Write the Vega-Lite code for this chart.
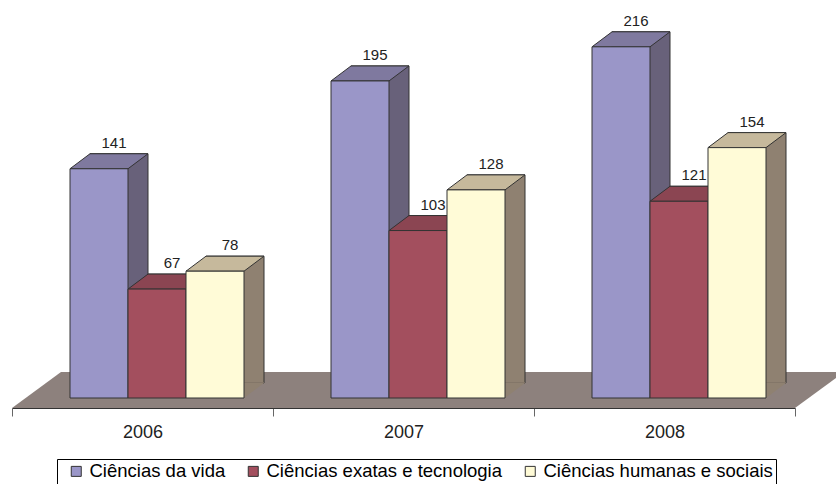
{
  "$schema": "https://vega.github.io/schema/vega-lite/v6.json",
  "width": 783,
  "height": 408,
  "autosize": {"type": "none"},
  "padding": {"left": 12, "top": 0, "right": 41, "bottom": 76},
  "background": "white",
  "config": {"view": {"stroke": null}, "font": "Liberation Sans"},
  "data": {
    "values": [
      {"ano": "2006", "area": "Ciências da vida", "n": 141},
      {"ano": "2006", "area": "Ciências exatas e tecnologia", "n": 67},
      {"ano": "2006", "area": "Ciências humanas e sociais", "n": 78},
      {"ano": "2007", "area": "Ciências da vida", "n": 195},
      {"ano": "2007", "area": "Ciências exatas e tecnologia", "n": 103},
      {"ano": "2007", "area": "Ciências humanas e sociais", "n": 128},
      {"ano": "2008", "area": "Ciências da vida", "n": 216},
      {"ano": "2008", "area": "Ciências exatas e tecnologia", "n": 121},
      {"ano": "2008", "area": "Ciências humanas e sociais", "n": 154}
    ]
  },
  "encoding": {
    "x": {
      "field": "ano",
      "type": "ordinal",
      "title": null,
      "scale": {"type": "band", "domain": ["2006", "2007", "2008"], "paddingInner": 0, "paddingOuter": 0},
      "axis": {
        "zindex": 1,
        "tickBand": "extent",
        "labelAngle": 0,
        "domainColor": "#333333",
        "domainWidth": 1,
        "tickColor": "#666666",
        "tickWidth": 1,
        "tickSize": 8,
        "labelFontSize": 18,
        "labelColor": "#222222",
        "labelPadding": 7,
        "labelFont": "Liberation Sans",
        "grid": false
      }
    }
  },
  "layer": [
    {
      "data": {"values": [{"ano": "2007"}]},
      "mark": {"type": "point", "shape": "M-391.5,0L391.5,0L440.5,-36L-342.5,-36Z", "size": 4, "filled": true, "fill": "#8D817D", "opacity": 1, "strokeWidth": 0},
      "encoding": {
        "y": {"datum": -6.15, "type": "quantitative", "scale": {"domain": [-6.15, 244.8], "nice": false, "zero": false}, "axis": null}
      }
    },
    {
      "mark": {"type": "bar", "yOffset": -15, "y2Offset": -15, "stroke": "#333333", "strokeWidth": 1},
      "encoding": {
        "xOffset": {"field": "area", "type": "nominal", "scale": {"type": "band", "domain": ["Ciências da vida", "Ciências exatas e tecnologia", "Ciências humanas e sociais"], "range": [78, 252], "paddingInner": 0, "paddingOuter": 0}},
        "y": {"field": "n", "type": "quantitative", "scale": {"domain": [-6.15, 244.8], "nice": false, "zero": false}, "axis": null},
        "y2": {"datum": 0},
        "fill": {"condition": [{"test": "datum.area === 'Ciências da vida'", "value": "#68617A"}, {"test": "datum.area === 'Ciências exatas e tecnologia'", "value": "#72384A"}], "value": "#8F8171"}
      }
    },
    {
      "mark": {"type": "point", "shape": "M29,0L29,-15.7L49,-15.7L49,-15Z", "size": 4, "filled": true, "opacity": 1, "strokeWidth": 0},
      "encoding": {
        "xOffset": {"field": "area", "type": "nominal", "scale": {"type": "point", "domain": ["Ciências da vida", "Ciências exatas e tecnologia", "Ciências humanas e sociais"], "range": [87, 203], "padding": 0}},
        "y": {"datum": 0, "type": "quantitative", "scale": {"domain": [-6.15, 244.8], "nice": false, "zero": false}, "axis": null},
        "fill": {"condition": [{"test": "datum.area === 'Ciências da vida'", "value": "#68617A"}, {"test": "datum.area === 'Ciências exatas e tecnologia'", "value": "#72384A"}], "value": "#8F8171"}
      }
    },
    {
      "mark": {"type": "point", "shape": "M-29,0L29,0L49,-15L-9,-15Z", "size": 4, "filled": true, "opacity": 1, "stroke": "#333333", "strokeWidth": 1},
      "encoding": {
        "xOffset": {"field": "area", "type": "nominal", "scale": {"type": "point", "domain": ["Ciências da vida", "Ciências exatas e tecnologia", "Ciências humanas e sociais"], "range": [87, 203], "padding": 0}},
        "y": {"field": "n", "type": "quantitative", "scale": {"domain": [-6.15, 244.8], "nice": false, "zero": false}, "axis": null},
        "fill": {"condition": [{"test": "datum.area === 'Ciências da vida'", "value": "#7F799F"}, {"test": "datum.area === 'Ciências exatas e tecnologia'", "value": "#8B4552"}], "value": "#C6B99C"}
      }
    },
    {
      "mark": {"type": "bar", "stroke": "#333333", "strokeWidth": 1},
      "encoding": {
        "xOffset": {"field": "area", "type": "nominal", "scale": {"type": "band", "domain": ["Ciências da vida", "Ciências exatas e tecnologia", "Ciências humanas e sociais"], "range": [58, 232], "paddingInner": 0, "paddingOuter": 0}},
        "y": {"field": "n", "type": "quantitative", "scale": {"domain": [-6.15, 244.8], "nice": false, "zero": false}, "axis": null},
        "y2": {"datum": 0},
        "color": {
          "field": "area",
          "type": "nominal",
          "scale": {"domain": ["Ciências da vida", "Ciências exatas e tecnologia", "Ciências humanas e sociais"], "range": ["#9A96C8", "#A34F5E", "#FFFBD7"]},
          "legend": {
            "title": null,
            "orient": "none",
            "legendX": 45,
            "legendY": 459,
            "direction": "horizontal",
            "strokeColor": "#000000",
            "fillColor": "#ffffff",
            "padding": 3,
            "symbolOffset": 7,
            "symbolType": "square",
            "symbolSize": 100,
            "symbolStrokeColor": "#333333",
            "symbolStrokeWidth": 1,
            "labelFontSize": 18.5,
            "labelFont": "Liberation Sans",
            "labelColor": "#000000",
            "labelLimit": 400,
            "labelOffset": 4,
            "columnPadding": 11
          }
        }
      }
    },
    {
      "mark": {"type": "text", "dx": 15, "dy": -21, "baseline": "alphabetic", "fontSize": 15, "fill": "#222222", "font": "Liberation Sans"},
      "encoding": {
        "xOffset": {"field": "area", "type": "nominal", "scale": {"type": "point", "domain": ["Ciências da vida", "Ciências exatas e tecnologia", "Ciências humanas e sociais"], "range": [87, 203], "padding": 0}},
        "y": {"field": "n", "type": "quantitative", "scale": {"domain": [-6.15, 244.8], "nice": false, "zero": false}, "axis": null},
        "text": {"field": "n", "type": "quantitative"}
      }
    }
  ],
  "resolve": {"scale": {"xOffset": "independent"}}
}
